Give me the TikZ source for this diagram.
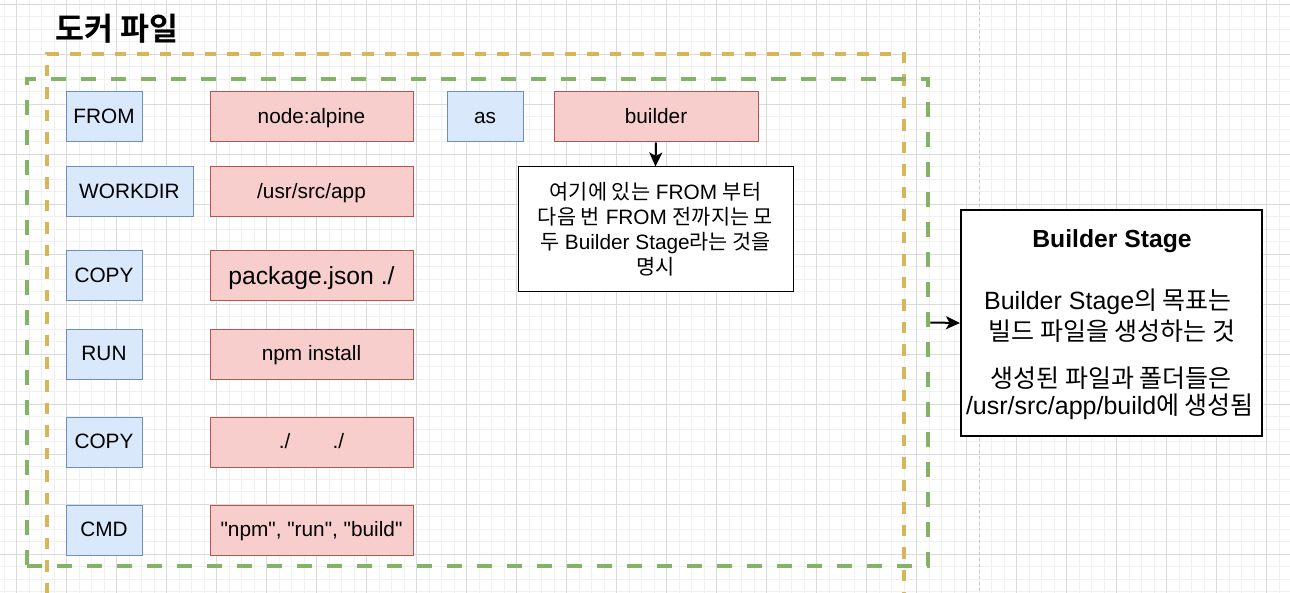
\documentclass[tikz,border=0pt]{standalone}
\usepackage{fontspec}
\setmainfont{Liberation Sans}[Ligatures=TeXOff]
\newfontfamily\kr{Noto Sans CJK KR}[BoldFont={Noto Sans CJK KR Bold}]
\newcommand\kor[1]{{\kr #1}}
\usetikzlibrary{arrows.meta}
\definecolor{gminor}{HTML}{F0F0F0}
\definecolor{gmajor}{HTML}{DADADA}
\definecolor{bfill}{HTML}{DAE8FC}
\definecolor{bline}{HTML}{6C8EBF}
\definecolor{rfill}{HTML}{F8CECC}
\definecolor{rline}{HTML}{B85450}
\definecolor{ydash}{HTML}{D6B656}
\definecolor{gdash}{HTML}{82B366}
\definecolor{pageline}{HTML}{C8C8C8}
\tikzset{
  kwbox/.style={draw=bline, fill=bfill, line width=1pt, minimum height=50, inner sep=0pt,
    text height=13.5pt, text depth=0.5pt, font=\fontsize{20.8}{25}\selectfont},
  valbox/.style={draw=rline, fill=rfill, line width=1pt, minimum width=203, minimum height=50, inner sep=0pt,
    text height=13.5pt, text depth=0.5pt, font=\fontsize{20.8}{25}\selectfont},
  notebox/.style={draw=black, fill=white, line width=1pt, inner sep=0pt, align=center,
    font=\fontsize{20.8}{25}\selectfont},
  stagebox/.style={draw=black, fill=white, line width=2pt, inner sep=0pt},
  stagetxt/.style={inner sep=0pt, font=\fontsize{25}{30}\selectfont},
  conn/.style={draw=black, line width=2pt, -{Stealth[length=14pt,width=13pt,inset=3.5pt]}},
  ygroup/.style={draw=ydash, line width=3.3pt, dash pattern=on 11.5pt off 11pt, inner sep=0pt},
  ggroup/.style={draw=gdash, line width=4.5pt, dash pattern=on 15pt off 15pt, inner sep=0pt},
}
\begin{document}
\begin{tikzpicture}[x=1pt,y=-1pt]
\useasboundingbox (0,0) rectangle (1290,593);
\clip (0,0) rectangle (1290,593);
\fill[white] (0,0) rectangle (1290,593);
% grid
\foreach \i in {0,...,103} \draw[gminor, line width=1pt] ({4.17+12.5*\i},0) -- ({4.17+12.5*\i},593);
\foreach \j in {0,...,47} \draw[gminor, line width=1pt] (0,{4.3+12.5*\j}) -- (1290,{4.3+12.5*\j});
\foreach \i in {0,...,25} \draw[gmajor, line width=1pt] ({16.67+50*\i},0) -- ({16.67+50*\i},593);
\foreach \j in {0,...,11} \draw[gmajor, line width=1pt] (0,{4.3+50*\j}) -- (1290,{4.3+50*\j});
% page border
\coordinate (pbtop) at (979,0);
\coordinate (pbbot) at (979,593);
\draw[pageline, line width=1pt, dash pattern=on 3pt off 3pt] (pbtop) -- (pbbot);

% title
\node[anchor=west, inner sep=0pt, font=\kr\bfseries\fontsize{31.5}{38}\selectfont] (title) at (55,29) {도커 파일};

% containers
\node[ygroup, minimum width=857, minimum height=570] (ygrp) at (475.5,339) {};
\node[ggroup, minimum width=901, minimum height=487] (ggrp) at (477.5,322.5) {};

% keyword boxes
\node[kwbox, minimum width=76] (from) at (104,117) {FROM};
\node[kwbox, minimum width=127] (workdir) at (129.5,192) {WORKDIR};
\node[kwbox, minimum width=76] (copya) at (104,276) {COPY};
\node[kwbox, minimum width=76] (run) at (104,354.5) {RUN};
\node[kwbox, minimum width=76] (copyb) at (104,442) {COPY};
\node[kwbox, minimum width=76] (cmd) at (104,530) {CMD};
\node[kwbox, minimum width=76] (as) at (485,117) {as};

% value boxes
\node[valbox] (image) at (311.5,117) {node:alpine};
\node[valbox] (wdir) at (311.5,192) {/usr/src/app};
\node[valbox, text height=17.5pt, text depth=0.5pt, font=\fontsize{24.7}{29.6}\selectfont] (pkg) at (311.5,276) {package.json ./};
\node[valbox] (npmi) at (311.5,354.5) {npm install};
\node[valbox] (dots) at (311.5,442) {./\hspace*{42pt}./};
\node[valbox] (build) at (311.5,530) {"npm", "run", "build"};
\node[valbox, minimum width=204] (builder) at (656,117) {builder};

% note
\node[notebox, minimum width=275, minimum height=125] (note) at (655.5,229.5)
  {\kor{여기에 있는} FROM \kor{부터}\\
   \kor{다음 번} FROM \kor{전까지는 모}\\
   \kor{두} Builder Stage\kor{라는 것을}\\
   \kor{명시}};
\draw[conn] (builder.south) -- (note.north);

% builder stage box
\node[stagebox, minimum width=301, minimum height=226] (stage) at (1111.5,323) {};
\node[stagetxt, font=\bfseries\fontsize{24.7}{29.6}\selectfont] (st0) at (1112,241) {Builder Stage};
\node[stagetxt] (st1) at (1108,302) {Builder Stage\kor{의 목표는}};
\node[stagetxt] (st2) at (1112,331) {\kor{빌드 파일을 생성하는 것}};
\node[stagetxt] (st3) at (1111,378) {\kor{생성된 파일과 폴더들은}};
\node[stagetxt] (st4) at (1110,407) {/usr/src/app/build\kor{에 생성됨}};
\draw[conn] (ggrp.east) -- (stage.west);
\end{tikzpicture}
\end{document}
